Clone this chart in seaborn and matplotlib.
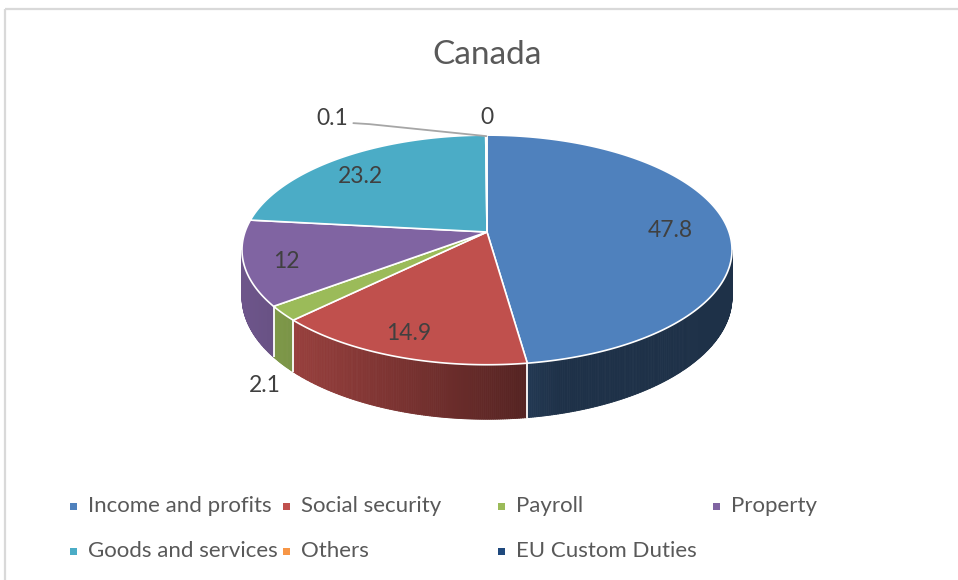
import numpy as np
import matplotlib
matplotlib.use("Agg")
import matplotlib.pyplot as plt
from matplotlib.patches import Polygon, Rectangle
from matplotlib.collections import PolyCollection
import seaborn as sns

# Tax revenue structure, Canada (% of total)
categories = ["Income and profits", "Social security", "Payroll", "Property",
              "Goods and services", "Others", "EU Custom Duties"]
values = [47.8, 14.9, 2.1, 12, 23.2, 0.1, 0]
value_labels = ["47.8", "14.9", "2.1", "12", "23.2", "0.1", "0"]
title = "Canada"
hex_colors = ["#4F81BD", "#C0504D", "#9BBB59", "#8064A2",
              "#4BACC6", "#F79646", "#1F497D"]

sns.set_theme(style="white")
plt.rcParams["font.family"] = ["Lato", "DejaVu Sans"]
palette = sns.color_palette(hex_colors)

# 3-D pie geometry in pixel units
CX, CY = 487.0, 232.0      # centre of the top face
RX, RY = 242.0, 112.0      # horizontal / depth radii
DEPTH = 6.4                # perspective distance (in radii)
THICK = 46.0               # wall height
LIGHT = 255.0              # direction of the light (deg, clockwise from back)


def project(phi_deg, r=1.0, z=0.0):
    """Map a point of the pie (angle clockwise from the back, radius, height) to pixels."""
    phi = np.radians(phi_deg)
    x = r * np.sin(phi)
    y = r * np.cos(phi)
    f = DEPTH / (DEPTH + y)
    return CX + RX * x * f, CY - RY * y * f + THICK * z * f


def shade(rgb, phi_deg):
    k = 0.38 + 0.47 * max(0.0, np.cos(np.radians(phi_deg - LIGHT)))
    return tuple(min(1.0, c * k) for c in rgb)


fig = plt.figure(figsize=(9.58, 5.8), dpi=100)
ax = fig.add_axes([0, 0, 1, 1])
ax.set_xlim(0, 958)
ax.set_ylim(580, 0)
ax.axis("off")

# chart frame
ax.add_patch(Rectangle((5, 9), 970, 590, fill=False, edgecolor="#D9D9D9", lw=1.6))

total = float(sum(values))
bounds = np.concatenate([[0.0], np.cumsum(values) / total * 360.0])

# outer walls (only the part facing the viewer)
quads, qcols = [], []
for i, col in enumerate(palette):
    a0, a1 = bounds[i], bounds[i + 1]
    if a1 - a0 <= 0:
        continue
    n = max(2, int((a1 - a0) / 0.4))
    ang = np.linspace(a0, a1, n + 1)
    for p, q in zip(ang[:-1], ang[1:]):
        m = 0.5 * (p + q)
        if np.cos(np.radians(m)) >= -1.0 / DEPTH:
            continue
        quads.append([project(p), project(q), project(q, z=1), project(p, z=1)])
        qcols.append(shade(col, m))
ax.add_collection(PolyCollection(quads, facecolors=qcols, edgecolors=qcols, lw=0.6))

# white seams where two slices meet on the wall
for b in bounds[1:-1]:
    if np.cos(np.radians(b)) < -1.0 / DEPTH:
        (x0, y0), (x1, y1) = project(b), project(b, z=1)
        ax.plot([x0, x1], [y0, y1], color="white", lw=1.3, solid_capstyle="butt")

# top face
for i, col in enumerate(palette):
    a0, a1 = bounds[i], bounds[i + 1]
    if a1 - a0 <= 0:
        continue
    ang = np.linspace(a0, a1, max(2, int((a1 - a0) / 0.5)) + 1)
    pts = [project(0, r=0)] + [project(a) for a in ang]
    ax.add_patch(Polygon(pts, closed=True, facecolor=col, edgecolor="white",
                         lw=1.2, joinstyle="round"))

# data labels
lab_kw = dict(fontsize=16.5, color="#404040", ha="center", va="center")
mids = 0.5 * (bounds[:-1] + bounds[1:])
for i, txt in enumerate(value_labels):
    share = values[i] / total
    if share >= 0.05:
        x, y = project(mids[i], r=0.8)
        ax.text(x - 8, y + 5, txt, **lab_kw)
    elif share >= 0.01:
        x, y = project(mids[i], r=1.08, z=1)
        ax.text(x, y + 13, txt, **lab_kw)
    elif values[i] > 0:
        ax_, ay_ = project(mids[i])
        lx, ly = ax_ - 154, ay_ - 17
        ax.plot([ax_, lx + 37, lx + 21], [ay_ + 1, ly + 6, ly + 5],
                color="#A6A6A6", lw=1.3)
        ax.text(lx, ly, txt, **lab_kw)
    else:
        x, y = project(bounds[i])
        ax.text(x, y - 18, txt, **lab_kw)

# title
ax.text(487, 55, title, fontsize=24, color="#595959", ha="center", va="center")

# legend
col_x = [74, 287, 502, 717]
row_y = [506, 551]
for i, (name, col) in enumerate(zip(categories, palette)):
    x = col_x[i % 4]
    y = row_y[i // 4]
    ax.add_patch(Rectangle((x - 3.5, y - 3.5), 7, 7, facecolor=col, edgecolor="none"))
    ax.text(x + 14, y, name, fontsize=16, color="#595959", ha="left", va="center")

fig.savefig("out.png", dpi=100)
